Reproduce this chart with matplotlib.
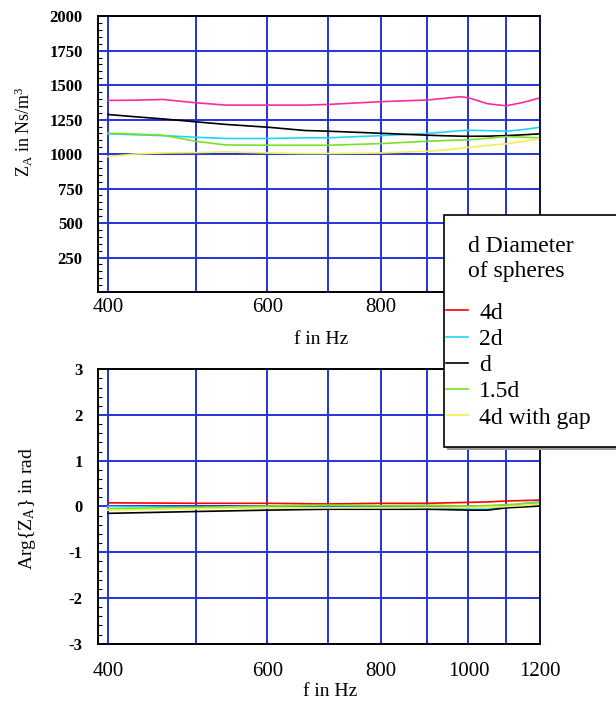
import numpy as np
import matplotlib
matplotlib.use("Agg")
import matplotlib.pyplot as plt
from matplotlib.lines import Line2D
from matplotlib.patches import Rectangle
from matplotlib.ticker import FixedLocator, MultipleLocator, NullLocator

plt.rcParams['font.family'] = ['Liberation Serif', 'DejaVu Serif']
plt.rcParams['mathtext.fontset'] = 'custom'
plt.rcParams['mathtext.rm'] = 'Liberation Serif'
plt.rcParams['mathtext.it'] = 'Liberation Serif:italic'
plt.rcParams['axes.unicode_minus'] = False

# ---------------- data ----------------
freq_top = [400, 430, 460, 500, 540, 600, 660, 700, 800, 900, 940, 980, 1000, 1050, 1100, 1150, 1200]
z_4d  = [1389, 1391, 1396, 1372, 1355, 1355, 1355, 1360, 1380, 1392, 1404, 1416, 1408, 1365, 1350, 1375, 1408]
z_2d  = [1147, 1140, 1134, 1122, 1113, 1113, 1118, 1118, 1134, 1149, 1160, 1170, 1173, 1170, 1166, 1178, 1195]
z_d   = [1287, 1270, 1255, 1234, 1215, 1195, 1171, 1166, 1151, 1137, 1133, 1130, 1129, 1130, 1134, 1140, 1147]
z_15d = [1151, 1145, 1137, 1093, 1066, 1064, 1064, 1064, 1076, 1093, 1098, 1102, 1103, 1115, 1127, 1122, 1118]
z_gap = [982, 1001, 1008, 1011, 1016, 1008, 1004, 1004, 1008, 1020, 1030, 1042, 1049, 1062, 1074, 1092, 1113]

freq_bot = [400, 500, 600, 700, 800, 900, 1000, 1050, 1100, 1150, 1200]
a_4d  = [0.08, 0.07, 0.07, 0.055, 0.07, 0.07, 0.09, 0.10, 0.12, 0.13, 0.14]
a_2d  = [0.0, -0.02, -0.02, -0.02, -0.02, -0.02, -0.06, -0.06, 0.01, 0.07, 0.10]
a_d   = [-0.15, -0.11, -0.08, -0.06, -0.06, -0.06, -0.08, -0.08, -0.03, -0.01, 0.01]
a_15d = [-0.05, -0.02, 0.01, 0.03, 0.02, 0.03, 0.01, 0.02, 0.04, 0.06, 0.08]
a_gap = [-0.08, -0.05, -0.03, -0.03, -0.03, -0.02, -0.02, -0.01, 0.0, 0.02, 0.05]

labels = ["4d", "2d", "d", "1.5d", "4d with gap"]
colors = ["#ff0000", "#22d4f4", "#000000", "#7ae026", "#f4ee55"]
pink_top = "#ff2a9c"

x_ticks = [400, 600, 800, 1000, 1200]
top_xticklabels = ["400", "600", "800", "", ""]   # 1000 and 1200 are hidden behind the legend
bot_xticklabels = ["400", "600", "800", "1000", "1200"]
x_grid = [400, 500, 600, 700, 800, 900, 1000, 1100, 1200]
top_yticks = [250, 500, 750, 1000, 1250, 1500, 1750, 2000]
bot_yticks = [-3, -2, -1, 0, 1, 2, 3]

grid_color = "#2233dd"

fig = plt.figure(figsize=(6.16, 7.02), dpi=100)
ax1 = fig.add_axes([0.159, 0.584, 0.718, 0.393])
ax2 = fig.add_axes([0.159, 0.083, 0.718, 0.391])

def style(ax, yticks, ylim, minor, xpad, xlabels):
    ax.set_xscale('log')
    ax.set_xlim(390, 1200)
    ax.set_ylim(*ylim)
    ax.xaxis.set_major_locator(FixedLocator(x_ticks))
    ax.xaxis.set_minor_locator(NullLocator())
    ax.set_xticklabels(xlabels)
    ax.set_yticks(yticks)
    ax.yaxis.set_minor_locator(MultipleLocator(minor))
    ax.tick_params(axis='x', length=0, labelsize=15, pad=xpad)
    ax.tick_params(axis='y', which='major', length=0, labelsize=12, pad=11)
    ax.tick_params(axis='y', which='minor', direction='in', length=3, width=0.8)
    for lbl in ax.get_yticklabels():
        lbl.set_fontweight('bold')
    for g in x_grid:
        ax.axvline(g, color=grid_color, lw=1.4, zorder=0.5)
    for g in yticks:
        ax.axhline(g, color=grid_color, lw=1.4, zorder=0.5)
    for s in ax.spines.values():
        s.set_linewidth(1.4)
        s.set_color('black')
        s.set_zorder(3)
    ax.spines['right'].set_color('#101040')

style(ax1, top_yticks, (0, 2000), 50, 4, top_xticklabels)
style(ax2, bot_yticks, (-3, 3), 0.2, 13, bot_xticklabels)

top_series = [z_4d, z_2d, z_d, z_15d, z_gap]
bot_series = [a_4d, a_2d, a_d, a_15d, a_gap]
for i, (ys, c) in enumerate(zip(top_series, colors)):
    cc = pink_top if i == 0 else c
    ax1.plot(freq_top, ys, color=cc, lw=1.2, zorder=2)
for ys, c in zip(bot_series, colors):
    ax2.plot(freq_bot, ys, color=c, lw=1.2, zorder=2)

ax1.set_xlabel("f in Hz", fontsize=14)
ax1.xaxis.set_label_coords(0.505, (292 - 339) / 276, transform=ax1.transAxes)
ax1.xaxis.label.set_va('center')
ax2.set_xlabel("f in Hz", fontsize=14)
ax2.xaxis.set_label_coords((330 - 98) / 442, (644 - 692) / 275, transform=ax2.transAxes)
ax2.xaxis.label.set_va('center')

ax1.set_ylabel(r"Z$_\mathrm{A}$ in Ns/m$^\mathrm{3}$", fontsize=13)
ax1.yaxis.set_label_coords((24 - 98) / 442, (292 - 132) / 276, transform=ax1.transAxes)
ax1.yaxis.label.set_va('center')
ax2.set_ylabel(r"Arg{Z$_\mathrm{A}$} in rad", fontsize=14)
ax2.yaxis.set_label_coords((28 - 98) / 442, (644 - 508) / 275, transform=ax2.transAxes)
ax2.yaxis.label.set_va('center')

# legend box
lx0 = 444 / 616
ly0 = 1 - 447 / 702
lh = (447 - 215) / 702
shadow = Rectangle((lx0 + 3 / 616, ly0 - 3 / 702), 0.4, lh, transform=fig.transFigure,
                   facecolor='#999999', edgecolor='none', zorder=9)
box = Rectangle((lx0, ly0), 0.4, lh, transform=fig.transFigure,
                facecolor='white', edgecolor='black', lw=1.2, zorder=10)
fig.patches.extend([shadow, box])
fig.text(468 / 616, 1 - 246 / 702, "d Diameter", fontsize=17, va='center', ha='left', zorder=11)
fig.text(468 / 616, 1 - 271 / 702, "of spheres", fontsize=17, va='center', ha='left', zorder=11)

handles = [Line2D([0], [0], color=c, lw=1.2) for c in colors]
leg = fig.legend(handles, labels, loc='upper left', bbox_to_anchor=(446 / 616, 1 - 302 / 702),
                 frameon=False, fontsize=17, handlelength=0.95, handletextpad=0.45,
                 labelspacing=0.2, borderaxespad=0, borderpad=0.0)
leg.set_zorder(12)

fig.savefig("out.png", dpi=100)
